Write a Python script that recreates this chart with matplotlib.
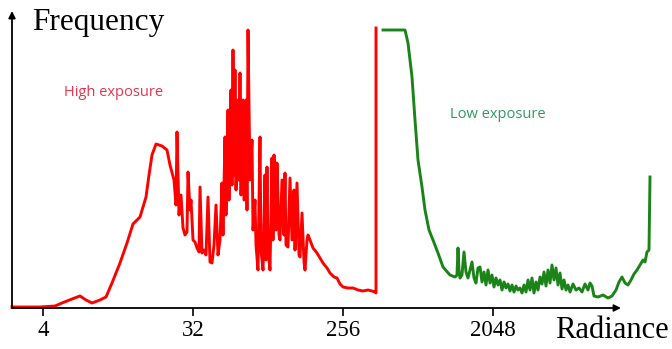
import matplotlib
matplotlib.use("Agg")
import matplotlib.pyplot as plt
import numpy as np

# radiance given as log2 stops, frequency in arbitrary counts
high_log2 = [1.38, 1.94, 2.24, 2.38, 2.58, 2.74, 2.86, 2.98, 3.14, 3.26, 3.38, 3.54, 3.68, 3.80,
             3.94, 4.06, 4.12, 4.18, 4.26, 4.38, 4.48, 4.54, 4.62, 4.66, 4.68, 4.72, 4.76, 4.80,
             4.84, 4.88, 4.90, 4.94, 4.96, 5.00, 5.04, 5.08, 5.12, 5.14, 5.18, 5.22, 5.26, 5.30,
             5.34, 5.38, 5.42, 5.46, 5.50, 5.54, 5.58, 5.60, 5.64, 5.66, 5.70, 5.72, 5.76, 5.78,
             5.80, 5.82, 5.84, 5.86, 5.90, 5.92, 5.94, 5.96, 6.00, 6.02, 6.06, 6.08, 6.10, 6.14,
             6.18, 6.20, 6.24, 6.26, 6.30, 6.34, 6.36, 6.40, 6.44, 6.46, 6.48, 6.50, 6.54, 6.58,
             6.60, 6.62, 6.66, 6.68, 6.72, 6.74, 6.78, 6.82, 6.84, 6.86, 6.90, 6.94, 6.98, 7.02,
             7.04, 7.08, 7.12, 7.14, 7.18, 7.22, 7.24, 7.28, 7.30, 7.34, 7.40, 7.48, 7.54, 7.60,
             7.68, 7.74, 7.82, 7.88, 7.94, 8.00, 8.10, 8.20, 8.30, 8.40, 8.50, 8.58, 8.64, 8.66,
             8.66]
high_freq = [1, 1, 2, 5, 9, 12, 8, 5, 8, 11, 25, 45, 65, 84,
             91, 111, 133, 153, 164, 162, 158, 143, 128, 103, 176, 93, 113, 80,
             73, 76, 136, 98, 108, 68, 66, 60, 56, 121, 55, 58, 53, 111,
             46, 45, 63, 103, 53, 68, 125, 73, 171, 93, 198, 108, 218, 123,
             258, 133, 238, 118, 208, 128, 235, 113, 208, 108, 208, 98, 278, 128,
             168, 78, 108, 63, 38, 171, 58, 38, 133, 48, 141, 58, 38, 150,
             68, 153, 78, 145, 73, 68, 128, 73, 135, 63, 61, 130, 68, 118,
             58, 125, 53, 51, 95, 46, 38, 68, 73, 68, 60, 55, 50, 45,
             40, 35, 31, 30, 24, 21, 20, 20, 18, 17, 18, 17, 16, 15,
             280]

low_log2 = [8.80, 9.24, 9.30, 9.38, 9.44, 9.50, 9.58, 9.64, 9.72, 9.80, 9.90, 10.00, 10.14,
            10.24, 10.28, 10.30, 10.32, 10.34, 10.38, 10.42, 10.46, 10.50, 10.54, 10.58, 10.62,
            10.66, 10.70, 10.74, 10.78, 10.82, 10.86, 10.90, 10.94, 10.98, 11.02, 11.06, 11.10,
            11.14, 11.18, 11.22, 11.26, 11.30, 11.34, 11.38, 11.42, 11.46, 11.50, 11.54, 11.58,
            11.62, 11.66, 11.70, 11.74, 11.78, 11.82, 11.86, 11.90, 11.94, 11.98, 12.02, 12.06,
            12.10, 12.14, 12.18, 12.22, 12.26, 12.30, 12.34, 12.38, 12.42, 12.46, 12.50, 12.54,
            12.60, 12.66, 12.72, 12.78, 12.84, 12.90, 12.94, 12.98, 13.02, 13.10, 13.20, 13.30,
            13.38, 13.46, 13.52, 13.58, 13.64, 13.70, 13.76, 13.82, 13.88, 13.94, 14.00, 14.04,
            14.08, 14.12, 14.14]
low_freq = [278, 278, 265, 231, 188, 148, 121, 98, 78, 68, 55, 41, 33,
            31, 33, 60, 38, 30, 33, 56, 36, 30, 38, 46, 30,
            25, 40, 41, 26, 36, 23, 38, 25, 33, 21, 30, 23,
            28, 18, 26, 20, 24, 17, 23, 16, 22, 18, 20, 15,
            23, 16, 28, 18, 30, 15, 26, 18, 31, 24, 36, 22,
            38, 25, 43, 28, 40, 23, 35, 19, 28, 18, 23, 16,
            24, 18, 20, 16, 24, 18, 25, 22, 12, 11, 13, 10,
            12, 18, 26, 31, 25, 23, 28, 34, 38, 43, 48, 46,
            56, 58, 131]

tick_values = [4, 32, 256, 2048]

high_x = 2.0 ** np.array(high_log2)
low_x = 2.0 ** np.array(low_log2)

fig = plt.figure(figsize=(6.72, 3.49), dpi=100)
ax = fig.add_axes([0, 0, 1, 1])
ax.set_xscale('log', base=2)
ax.set_xlim(2 ** 1.14, 2 ** 14.58)
ax.set_ylim(-41, 308)

ax.plot(high_x, high_freq, color='#ff0000', lw=2.1, solid_joinstyle='round')
ax.plot(low_x, low_freq, color='#1a8418', lw=2.1, solid_joinstyle='round')

# axes drawn as arrows
x0 = 2 ** 1.38
ax.annotate('', xy=(2 ** 13.56, 0), xytext=(x0, 0),
            arrowprops=dict(arrowstyle='-|>', color='black', lw=1.3,
                            mutation_scale=10, shrinkA=0, shrinkB=0))
ax.annotate('', xy=(x0, 297), xytext=(x0, 0),
            arrowprops=dict(arrowstyle='-|>', color='black', lw=1.3,
                            mutation_scale=10, shrinkA=0, shrinkB=0))

for side in ['top', 'right', 'left']:
    ax.spines[side].set_visible(False)
ax.spines['bottom'].set_position(('data', 0))
ax.spines['bottom'].set_color('none')
ax.set_yticks([])
ax.set_xticks(tick_values)
ax.set_xticklabels([str(v) for v in tick_values], family='Liberation Serif', fontsize=16.5)
ax.xaxis.set_minor_locator(matplotlib.ticker.NullLocator())
ax.tick_params(axis='x', direction='out', length=6, width=1.2, color='black', pad=3)

ax.text(2 ** 1.78, 300, 'Frequency', family='Liberation Serif', fontsize=22.5,
        ha='left', va='top')
ax.text(2 ** 14.52, -37, 'Radiance', family='Liberation Serif', fontsize=22,
        ha='right', va='bottom')
ax.text(2 ** 2.42, 215, 'High exposure', family='Open Sans', fontsize=10.5,
        color='#e8344c', va='center', ha='left')
ax.text(2 ** 10.14, 193, 'Low exposure', family='Open Sans', fontsize=10.5,
        color='#2f9a66', va='center', ha='left')

fig.savefig('out.png', dpi=100)
